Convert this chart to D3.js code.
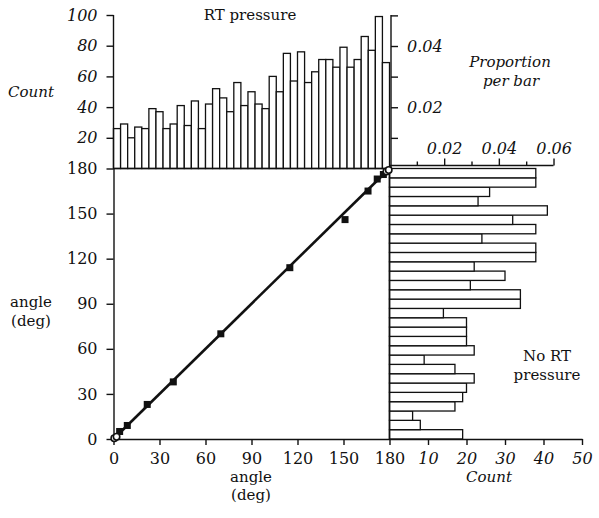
<!DOCTYPE html>
<html><head><meta charset="utf-8">
<script src="https://cdn.jsdelivr.net/npm/d3@7"></script>
<style>
body{margin:0;background:#fff}
svg{display:block}
text{font-family:"DejaVu Serif",serif;fill:#111}
.it{font-style:italic}
</style>
</head><body>
<svg id="c" width="599" height="518"></svg>
<script>
// ---- data ----
const topCounts = [26,29,20,27,26,39,37,26,29,41,28,44,26,42,52,46,37,56,41,50,
                   42,39,60,50,75,57,76,56,63,71,71,66,79,66,71,86,77,99,69];
// right histogram, angle ascending (bottom to top)
const rightCounts = [19,8,6,17,19,20,22,17,9,22,20,20,20,14,34,34,21,30,22,38,38,24,38,32,41,23,26,38,38];
const squarePts = [[4,5],[9,9],[22,23],[39,38],[70,70],[115,114],[151,146],[166,165],[172,173],[176,176]];
const circlePts = [[0.5,0.5],[2,1.5],[178,178],[179.5,179]];
const angleTicks = [0,30,60,90,120,150,180];
const topCountTicks = [20,40,60,80,100];
const topPropTicks = [0.01,0.02,0.03,0.04,0.05];
const topPropLabels = [0.02,0.04];
const rightCountTicks = [10,20,30,40,50];
const rightPropTicks = [0.01,0.02,0.03,0.04,0.05,0.06];
const rightPropLabels = [0.02,0.04,0.06];

// ---- layout ----
const svg = d3.select("#c");
const X0 = 113.5, X1 = 389.5, Y0 = 439, Y1 = 168.5, TOP = 15, RIGHT = 582;
const xA = d3.scaleLinear([0,180],[X0,X1]);
const yA = d3.scaleLinear([0,180],[Y0,Y1]);
const yC = d3.scaleLinear([0,100],[Y1,TOP]);
const nTop = d3.sum(topCounts), nRight = d3.sum(rightCounts);
const yP = d3.scaleLinear([0,100/nTop],[Y1,TOP]);
const xC = d3.scaleLinear([0,50],[X1,RIGHT]);
const xP = d3.scaleLinear([0,50/nRight],[X1,RIGHT]);

const fmt2 = d => d3.format(".2f")(d);
const isLab = (arr,d) => arr.some(v=>Math.abs(v-d)<1e-9);

function styleAxis(g, fs, italic){
  g.select(".domain").attr("stroke","#111").attr("stroke-width",1.4);
  g.selectAll(".tick line").attr("stroke","#111").attr("stroke-width",1.4);
  g.selectAll(".tick text").attr("font-family","DejaVu Serif, serif")
    .attr("font-size",fs).attr("fill","#111").style("font-style",italic?"italic":"normal");
}

// ---- top histogram ----
const bwTop = 180/topCounts.length;
svg.append("g").selectAll("rect").data(topCounts).join("rect")
  .attr("x",(d,i)=>xA(i*bwTop)).attr("width",(d,i)=>xA((i+1)*bwTop)-xA(i*bwTop))
  .attr("y",d=>yC(d)).attr("height",d=>yC(0)-yC(d))
  .attr("fill","#fff").attr("stroke","#111").attr("stroke-width",1.3);

// ---- right histogram ----
const bwR = 180/rightCounts.length;
svg.append("g").selectAll("rect").data(rightCounts).join("rect")
  .attr("y",(d,i)=>yA((i+1)*bwR)).attr("height",(d,i)=>yA(i*bwR)-yA((i+1)*bwR))
  .attr("x",X1).attr("width",d=>xC(d)-xC(0))
  .attr("fill","#fff").attr("stroke","#111").attr("stroke-width",1.3);

// ---- axes ----
const gTL = svg.append("g").attr("transform",`translate(${X0},0)`)
  .call(d3.axisLeft(yC).tickValues(topCountTicks).tickSize(7).tickSizeOuter(0).tickPadding(9));
gTL.select(".domain").attr("d",`M0,${TOP}V${Y1}`);
styleAxis(gTL,16,true);

const gTR = svg.append("g").attr("transform",`translate(${X1+1.5},0)`)
  .call(d3.axisRight(yP).tickValues(topPropTicks).tickSize(7).tickSizeOuter(0).tickPadding(9)
    .tickFormat(d=>isLab(topPropLabels,d)?fmt2(d):""));
gTR.select(".domain").attr("d",`M0,${TOP}V${Y1}`);
styleAxis(gTR,16,true);

const gL = svg.append("g").attr("transform",`translate(${X0},0)`)
  .call(d3.axisLeft(yA).tickValues(angleTicks).tickSize(7).tickSizeOuter(0).tickPadding(9));
styleAxis(gL,16,false);

const gB = svg.append("g").attr("transform",`translate(0,${Y0})`)
  .call(d3.axisBottom(xA).tickValues(angleTicks).tickSize(6).tickSizeOuter(0).tickPadding(8));
styleAxis(gB,16,false);

const gBR = svg.append("g").attr("transform",`translate(0,${Y0})`)
  .call(d3.axisBottom(xC).tickValues(rightCountTicks).tickSize(6).tickSizeOuter(0).tickPadding(8));
styleAxis(gBR,16,true);

const gTP = svg.append("g").attr("transform",`translate(0,${Y1-3})`)
  .call(d3.axisTop(xP).tickValues(rightPropTicks).tickSizeOuter(0).tickPadding(6)
    .tickSize(4).tickFormat(d=>isLab(rightPropLabels,d)?fmt2(d):""));
gTP.select(".domain").attr("d",`M${X1},0H${xP(0.06)}`);
styleAxis(gTP,16,true);
gTP.selectAll(".tick").filter(d=>isLab(rightPropLabels,d)).select("line").attr("y2",-7);
gTP.selectAll(".tick text").attr("y",-12);

// frame lines of scatter
svg.append("line").attr("x1",X0).attr("x2",X1+1.5).attr("y1",Y1).attr("y2",Y1)
  .attr("stroke","#111").attr("stroke-width",1.6);
svg.append("line").attr("x1",X1).attr("x2",X1).attr("y1",Y1).attr("y2",Y0)
  .attr("stroke","#111").attr("stroke-width",1.6);

// ---- scatter ----
svg.append("line").attr("x1",xA(0)).attr("y1",yA(0)).attr("x2",xA(180)).attr("y2",yA(180))
  .attr("stroke","#111").attr("stroke-width",2.6);
svg.append("g").selectAll("rect").data(squarePts).join("rect")
  .attr("x",d=>xA(d[0])-3.5).attr("y",d=>yA(d[1])-3.5).attr("width",7).attr("height",7)
  .attr("fill","#111");
svg.append("g").selectAll("circle").data(circlePts).join("circle")
  .attr("cx",d=>xA(d[0])).attr("cy",d=>yA(d[1])).attr("r",3.2)
  .attr("fill","#fff").attr("stroke","#111").attr("stroke-width",1.6);

// ---- labels ----
function lbl(x,y,t,cls,fs){ svg.append("text").attr("x",x).attr("y",y).attr("text-anchor","middle")
  .attr("font-size",fs||15).attr("class",cls||"").text(t); }
lbl(250,20,"RT pressure");
lbl(31,97,"Count","it");
lbl(31,307,"angle");
lbl(31,326,"(deg)");
lbl(251,482,"angle");
lbl(251,500,"(deg)");
lbl(489,482,"Count","it");
lbl(510,67,"Proportion","it");
lbl(511,86,"per bar","it");
lbl(547,361,"No RT");
lbl(547,380,"pressure");
</script>
</body></html>
